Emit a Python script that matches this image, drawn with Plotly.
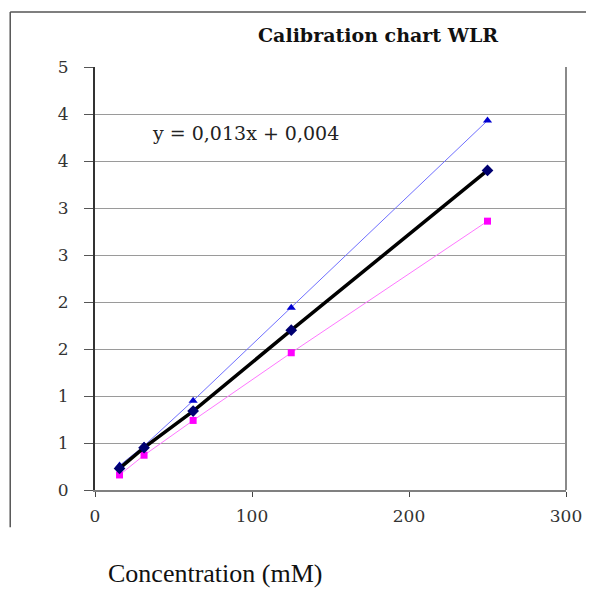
import plotly.graph_objects as go

conc = [15.625, 31.25, 62.5, 125, 250]
series_blue = [0.26, 0.47, 0.95, 1.94, 3.93]
series_black = [0.23, 0.45, 0.84, 1.70, 3.40]
series_pink = [0.16, 0.37, 0.74, 1.46, 2.86]

y_tickvals = [0, 0.5, 1, 1.5, 2, 2.5, 3, 3.5, 4, 4.5]
y_ticktext = ["0", "1", "1", "2", "2", "3", "3", "4", "4", "5"]
x_tickvals = [0, 100, 200, 300]

title_text = "Calibration chart WLR"
equation_text = "y = 0,013x + 0,004"
xlabel_text = "Concentration (mM)"

serif = "DejaVu Serif"

fig = go.Figure()
fig.add_trace(go.Scatter(x=conc, y=series_blue, mode="lines+markers",
                         line=dict(color="#6f6fff", width=1),
                         marker=dict(symbol="triangle-up", size=8, color="#0000d0"),
                         showlegend=False))
fig.add_trace(go.Scatter(x=conc, y=series_pink, mode="lines+markers",
                         line=dict(color="#ff77ff", width=1),
                         marker=dict(symbol="square", size=7, color="#ff00ff"),
                         showlegend=False))
fig.add_trace(go.Scatter(x=conc, y=series_black, mode="lines+markers",
                         line=dict(color="#000000", width=3.5),
                         marker=dict(symbol="diamond", size=9, color="#000070"),
                         showlegend=False))

fig.update_layout(
    width=586, height=582,
    margin=dict(l=87, r=26, t=59, b=100),
    paper_bgcolor="white", plot_bgcolor="white",
    font=dict(family=serif, color="#222222"),
    xaxis=dict(range=[0, 300], tickvals=x_tickvals, showgrid=False, zeroline=False,
               showline=True, linecolor="#808080", linewidth=2, mirror=False,
               ticks="outside", ticklen=5, tickcolor="#444444", tickwidth=1,
               tickfont=dict(family=serif, size=17, color="#333333"),
               ticklabelstandoff=5),
    yaxis=dict(range=[0, 4.5], tickvals=y_tickvals, ticktext=y_ticktext,
               showgrid=True, gridcolor="#9a9a9a", gridwidth=1, zeroline=False,
               showline=True, linecolor="#333333", linewidth=2,
               ticks="outside", ticklen=9, tickcolor="#555555", tickwidth=1,
               tickfont=dict(family=serif, size=17, color="#333333"),
               ticklabelstandoff=12),
)

# plot area right border
fig.add_shape(type="line", xref="paper", yref="paper", x0=1, x1=1, y0=0, y1=1,
              line=dict(color="#8a8a8a", width=2))
# outer chart border (top and left)
fig.add_shape(type="line", xref="paper", yref="paper", x0=-0.18, x1=1.06, y0=1.13, y1=1.13,
              line=dict(color="#555555", width=1.5))
fig.add_shape(type="line", xref="paper", yref="paper", x0=-0.18, x1=-0.18, y0=1.13, y1=-0.088,
              line=dict(color="#555555", width=1.5))

fig.add_annotation(text="<b>" + title_text + "</b>", xref="paper", yref="paper",
                   x=0.6, y=1.0745, xanchor="center", yanchor="middle", showarrow=False,
                   font=dict(family=serif, size=19, color="#111111"))
fig.add_annotation(text=equation_text, xref="paper", yref="paper",
                   x=0.116, y=0.843, xanchor="left", yanchor="middle", showarrow=False,
                   font=dict(family=serif, size=19, color="#222222"))
fig.add_annotation(text=xlabel_text, xref="paper", yref="paper",
                   x=0.254, y=-0.198, xanchor="center", yanchor="middle", showarrow=False,
                   font=dict(family="Liberation Serif", size=26, color="#111111"))

fig.write_html("out.html")
